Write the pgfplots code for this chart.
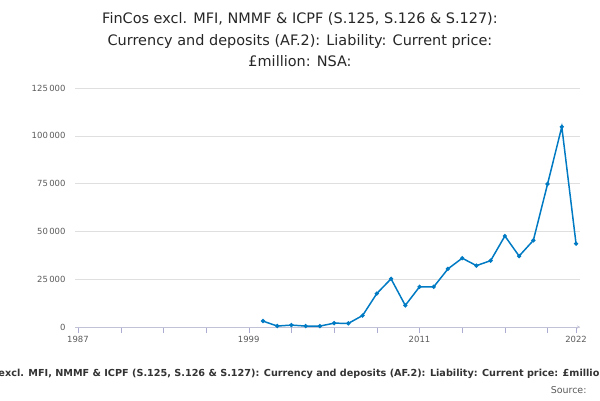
\documentclass[border=0pt]{standalone}
\usepackage{pgfplots}
\pgfplotsset{compat=1.18}
\usepackage{fontspec}
\setmainfont{DejaVu Sans}
\definecolor{ln}{RGB}{0,122,195}
\definecolor{tk}{RGB}{90,90,90}
\begin{document}
\begin{tikzpicture}[x=1bp,y=1bp]
\useasboundingbox (0,0) rectangle (600,400);
\clip (0,0) rectangle (600,400);
\node[align=center,font=\fontsize{14.5}{21.5}\selectfont,text=black!85] at (300,360) {FinCos excl. MFI, NMMF \& ICPF (S.125, S.126 \& S.127):\\Currency and deposits (AF.2): Liability: Current price:\\\textsterling million: NSA:};
\begin{axis}[at={(75bp,73bp)},anchor=south west,scale only axis,width=505bp,height=239bp,
 xmin=1986.79,xmax=2022.28,ymin=0,ymax=125000,
 scaled ticks=false,
 axis lines=left, axis line style={draw=none},
 x axis line style={draw=blue!20!gray!40},
 ytick={0,25000,50000,75000,100000,125000},
 yticklabels={0,25\,000,50\,000,75\,000,100\,000,125\,000},
 xtick={1987,1990,1993,1996,1999,2002,2005,2008,2011,2014,2017,2020,2022},
 xticklabels={1987,,,,1999,,,,2011,,,,2022},
 ymajorgrids, grid style={gray!25},
 tick label style={font=\fontsize{8.5}{10}\selectfont,text=tk},
 /pgf/number format/assume math mode=true,
 ytick style={draw=none},
 xtick style={draw=blue!30!gray!50},
 major tick length=6bp, tick align=outside,
 clip=false]
\addplot[ln,line width=1.5pt,mark=*,mark size=1.3pt] coordinates {
(2000,3100)(2001,500)(2002,1000)(2003,500)(2004,500)(2005,2000)(2006,1900)(2007,6000)(2008,17500)(2009,25200)(2010,11300)(2011,21000)(2012,21000)(2013,30400)(2014,36000)(2015,32100)(2016,34700)(2017,47600)(2018,37100)(2019,45300)(2020,74800)(2021,104700)(2022,43600)};
\end{axis}
\node[font=\fontsize{9.7}{11}\selectfont\bfseries,text=black!80] at (300,26) {FinCos excl. MFI, NMMF \& ICPF (S.125, S.126 \& S.127): Currency and deposits (AF.2): Liability: Current price: \textsterling million: NSA:};
\node[anchor=east,font=\fontsize{9.5}{11}\selectfont,text=tk] at (590,10) {Source:};
\end{tikzpicture}
\end{document}
